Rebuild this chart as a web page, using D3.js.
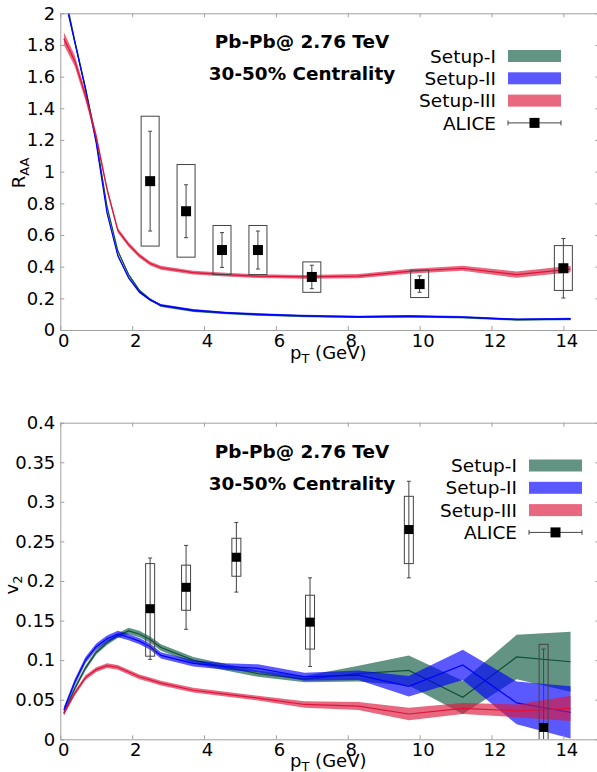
<!DOCTYPE html>
<html>
<head>
<meta charset="utf-8">
<script src="https://cdn.jsdelivr.net/npm/d3@7/dist/d3.min.js"></script>
<style>
  html, body { margin: 0; padding: 0; background: #fff; }
  svg { display: block; font-family: "DejaVu Sans", sans-serif; }
</style>
</head>
<body>
<svg id="chart" width="597" height="772"></svg>
<script>
// ---------------- DATA ----------------
const pT = [0.1,0.4,0.7,1.0,1.3,1.6,1.9,2.2,2.5,2.8,3.7,4.6,5.5,6.8,8.3,9.7,11.2,12.7,14.2];

// R_AA theory bands (centre, half-width)
const raaSetupI   = [2.15,1.83,1.53,1.20,0.78,0.50,0.35,0.25,0.193,0.153,0.120,0.106,0.096,0.087,0.081,0.085,0.079,0.065,0.068];
const raaSetupIErr= [0.012,0.012,0.012,0.01,0.01,0.009,0.008,0.008,0.007,0.007,0.007,0.006,0.006,0.006,0.006,0.006,0.006,0.006,0.006];
const raaSetupII  = [2.12,1.82,1.52,1.18,0.74,0.47,0.33,0.24,0.19,0.157,0.125,0.110,0.100,0.090,0.084,0.088,0.082,0.067,0.071];
const raaSetupIIErr=[0.012,0.012,0.012,0.01,0.01,0.009,0.008,0.008,0.007,0.007,0.007,0.006,0.006,0.006,0.006,0.006,0.006,0.006,0.006];
const raaSetupIII = [1.84,1.70,1.48,1.22,0.89,0.63,0.54,0.47,0.42,0.393,0.362,0.350,0.340,0.335,0.340,0.370,0.390,0.350,0.385];
const raaSetupIIIErr=[0.04,0.035,0.03,0.025,0.02,0.016,0.014,0.013,0.012,0.012,0.012,0.012,0.012,0.012,0.013,0.015,0.016,0.02,0.02];

// v2 theory bands (centre, half-width)
const v2SetupI    = [0.033,0.064,0.090,0.110,0.122,0.131,0.137,0.133,0.126,0.116,0.100,0.091,0.083,0.076,0.083,0.087,0.053,0.104,0.098];
const v2SetupIErr = [0.003,0.003,0.003,0.003,0.003,0.003,0.004,0.004,0.004,0.004,0.004,0.004,0.004,0.004,0.010,0.019,0.021,0.028,0.038];
const v2SetupII   = [0.037,0.072,0.100,0.117,0.127,0.133,0.129,0.124,0.117,0.106,0.096,0.092,0.0897,0.079,0.081,0.067,0.094,0.046,0.034];
const v2SetupIIErr= [0.004,0.004,0.004,0.004,0.004,0.004,0.004,0.004,0.004,0.004,0.004,0.004,0.005,0.005,0.006,0.013,0.019,0.027,0.033];
const v2SetupIII  = [0.033,0.058,0.078,0.088,0.093,0.091,0.085,0.079,0.075,0.071,0.062,0.057,0.052,0.044,0.042,0.032,0.039,0.036,0.039];
const v2SetupIIIErr=[0.003,0.003,0.003,0.003,0.003,0.003,0.003,0.003,0.003,0.003,0.003,0.003,0.003,0.004,0.005,0.008,0.007,0.008,0.016];

// ALICE data
const aliceRaaPt    = [2.5,3.5,4.5,5.5,7.0,10.0,14.0];
const aliceRaa      = [0.94,0.75,0.505,0.505,0.335,0.29,0.39];
const aliceRaaStat  = [0.315,0.167,0.11,0.12,0.074,0.052,0.188];
const aliceRaaSysLo = [0.41,0.29,0.155,0.155,0.097,0.085,0.14];
const aliceRaaSysHi = [0.41,0.295,0.155,0.155,0.095,0.088,0.143];

const aliceV2Pt     = [2.5,3.5,4.9,6.95,9.7,13.45];
const aliceV2       = [0.165,0.192,0.230,0.148,0.265,0.015];
const aliceV2Stat   = [0.064,0.053,0.044,0.056,0.061,0.099];
const aliceV2SysLo  = [0.06,0.029,0.024,0.034,0.043,0.105];
const aliceV2SysHi  = [0.057,0.028,0.024,0.034,0.042,0.105];

const seriesNames = ["Setup-I","Setup-II","Setup-III","ALICE"];
const raaTicks = [0,0.2,0.4,0.6,0.8,1,1.2,1.4,1.6,1.8,2];
const v2Ticks  = [0,0.05,0.1,0.15,0.2,0.25,0.3,0.35,0.4];
const xTicks   = [0,2,4,6,8,10,12,14];

// ---------------- STYLE ----------------
const colors = {
  I:   {fill:"#0f5a40", line:"#10503a"},
  II:  {fill:"#0000ff", line:"#0000ff"},
  III: {fill:"#dc173a", line:"#dc143c"}
};
const bandOpacity = 0.65;
const axisGrey = "#a0a0a0";

const svg = d3.select("#chart");
const x = d3.scaleLinear().domain([0,15]).range([60.3,599.3]);
const left = 60.3, right = 599.3;

function panel(cfg) {
  const y = d3.scaleLinear().domain(cfg.yDomain).range([cfg.bottom, cfg.top]);
  const g = svg.append("g");
  const clipId = "clip" + cfg.id;
  svg.append("defs").append("clipPath").attr("id", clipId)
    .append("rect").attr("x", left).attr("y", cfg.top)
    .attr("width", right-left).attr("height", cfg.bottom-cfg.top);
  const plot = g.append("g").attr("clip-path", `url(#${clipId})`);

  // bands
  cfg.series.forEach(s => {
    const pts = pT.map((p,i) => ({p, v:s.v[i], e:s.e[i]}));
    const area = d3.area().x(d => x(d.p)).y0(d => y(d.v - d.e)).y1(d => y(d.v + d.e));
    const line = d3.line().x(d => x(d.p)).y(d => y(d.v));
    plot.append("path").attr("d", area(pts)).attr("fill", s.c.fill).attr("fill-opacity", bandOpacity);
    plot.append("path").attr("d", line(pts)).attr("fill","none").attr("stroke", s.c.line).attr("stroke-width",1.2);
  });

  // ALICE
  const d = cfg.data;
  d.pt.forEach((p,i) => {
    const cx = x(p);
    const hw = cfg.boxHalf;
    plot.append("rect")
      .attr("x", cx-hw).attr("width", 2*hw)
      .attr("y", y(d.v[i]+d.sysHi[i])).attr("height", y(d.v[i]-d.sysLo[i]) - y(d.v[i]+d.sysHi[i]))
      .attr("fill","none").attr("stroke","#444").attr("stroke-width",1);
    const yt = y(d.v[i]+d.stat[i]), yb = y(d.v[i]-d.stat[i]);
    plot.append("line").attr("x1",cx).attr("x2",cx).attr("y1",yt).attr("y2",yb).attr("stroke","#444");
    [yt,yb].forEach(yy => plot.append("line").attr("x1",cx-2).attr("x2",cx+2).attr("y1",yy).attr("y2",yy).attr("stroke","#444"));
    plot.append("rect").attr("x",cx-cfg.sq/2).attr("y",y(d.v[i])-cfg.sq/2)
      .attr("width",cfg.sq).attr("height",cfg.sq).attr("fill","#000");
  });

  // axes
  const ax = [];
  ax.push(g.append("g").attr("transform",`translate(0,${cfg.bottom})`)
    .call(d3.axisBottom(x).tickValues(xTicks).tickSize(-4).tickSizeOuter(0).tickPadding(4).tickFormat(d3.format("d"))));
  ax.push(g.append("g").attr("transform",`translate(0,${cfg.top})`)
    .call(d3.axisTop(x).tickValues(xTicks).tickSize(-4).tickSizeOuter(0).tickFormat("")));
  ax.push(g.append("g").attr("transform",`translate(${left},0)`)
    .call(d3.axisLeft(y).tickValues(cfg.yTicks).tickSize(-4).tickSizeOuter(0).tickPadding(5).tickFormat(cfg.fmt)));
  ax.push(g.append("g").attr("transform",`translate(${right},0)`)
    .call(d3.axisRight(y).tickValues(cfg.yTicks).tickSize(-4).tickSizeOuter(0).tickFormat("")));
  ax.forEach(a => {
    a.select(".domain").attr("stroke", axisGrey);
    a.selectAll(".tick line").attr("stroke", axisGrey);
    a.selectAll(".tick text").attr("font-size", 18).attr("font-family","DejaVu Sans").attr("fill","#000");
  });
  ax[0].selectAll(".tick text").attr("dx", 3);

  // titles
  const t = g.append("text").attr("font-weight","bold").attr("font-size",18.4).attr("text-anchor","middle");
  t.append("tspan").attr("x",302).attr("y",cfg.top+35).text("Pb-Pb@ 2.76 TeV");
  t.append("tspan").attr("x",302).attr("y",cfg.top+67).text("30-50% Centrality");

  // x label
  const xl = g.append("text").attr("font-size",18).attr("x",290).attr("y",cfg.bottom+cfg.xLabelDy);
  xl.append("tspan").text("p");
  xl.append("tspan").attr("font-size",13).attr("dy",4).text("T");
  xl.append("tspan").attr("dy",-4).text(" (GeV)");

  // y label
  const yl = g.append("text").attr("font-size",18).attr("text-anchor","middle")
    .attr("transform",`translate(${cfg.yLabelX},${cfg.yLabelY}) rotate(-90)`);
  yl.append("tspan").text(cfg.yLabel[0]);
  yl.append("tspan").attr("font-size",13).attr("dy",4).text(cfg.yLabel[1]);

  // legend
  const lg = g.append("g");
  const sw = [colors.I, colors.II, colors.III];
  seriesNames.forEach((name,i) => {
    const cy = cfg.legY + i*22.3;
    lg.append("text").attr("x",cfg.legTextX).attr("y",cy+6.6).attr("text-anchor","end")
      .attr("font-size",18.5).text(name);
    if (i < 3) {
      lg.append("rect").attr("x",cfg.legTextX+12).attr("y",cy-6).attr("width",53).attr("height",12)
        .attr("fill",sw[i].fill).attr("fill-opacity",bandOpacity);
    } else {
      const x1 = cfg.legTextX+12, x2 = cfg.legTextX+65, xm = (x1+x2)/2;
      lg.append("line").attr("x1",x1).attr("x2",x2).attr("y1",cy).attr("y2",cy).attr("stroke","#444");
      [x1,x2].forEach(xx => lg.append("line").attr("x1",xx).attr("x2",xx).attr("y1",cy-2.5).attr("y2",cy+2.5).attr("stroke","#444"));
      lg.append("rect").attr("x",xm-5).attr("y",cy-5).attr("width",10).attr("height",10).attr("fill","#000");
    }
  });
}

panel({
  id:"raa", top:13.3, bottom:330, yDomain:[0,2], yTicks:raaTicks,
  fmt: d => d3.format("")(d),
  series:[
    {v:raaSetupI, e:raaSetupIErr, c:colors.I},
    {v:raaSetupII, e:raaSetupIIErr, c:colors.II},
    {v:raaSetupIII, e:raaSetupIIIErr, c:colors.III}
  ],
  data:{pt:aliceRaaPt, v:aliceRaa, stat:aliceRaaStat, sysLo:aliceRaaSysLo, sysHi:aliceRaaSysHi},
  boxHalf:9, sq:10, xLabelDy:29,
  yLabel:["R","AA"], yLabelX:25, yLabelY:173,
  legY:56, legTextX:496
});

panel({
  id:"v2", top:422.7, bottom:739.3, yDomain:[0,0.4], yTicks:v2Ticks,
  fmt: d => d3.format("")(d),
  series:[
    {v:v2SetupI, e:v2SetupIErr, c:colors.I},
    {v:v2SetupII, e:v2SetupIIErr, c:colors.II},
    {v:v2SetupIII, e:v2SetupIIIErr, c:colors.III}
  ],
  data:{pt:aliceV2Pt, v:aliceV2, stat:aliceV2Stat, sysLo:aliceV2SysLo, sysHi:aliceV2SysHi},
  boxHalf:4.5, sq:9, xLabelDy:27.5,
  yLabel:["v","2"], yLabelX:18, yLabelY:585,
  legY:465.5, legTextX:517
});
</script>
</body>
</html>
